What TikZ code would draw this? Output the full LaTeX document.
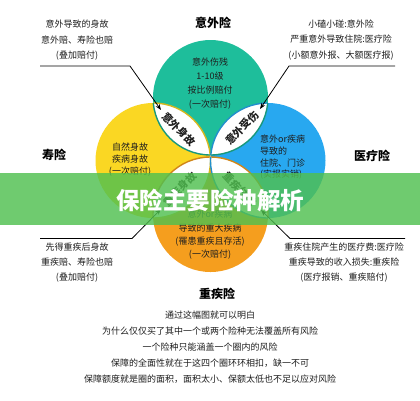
\documentclass[tikz,border=0pt]{standalone}
\usepackage{fontspec}
\setmainfont{Noto Sans CJK SC}
\usetikzlibrary{arrows.meta}
\definecolor{cteal}{RGB}{30,190,155}
\definecolor{cyellow}{RGB}{250,215,35}
\definecolor{cblue}{RGB}{40,168,240}
\definecolor{corange}{RGB}{245,158,30}
\definecolor{cbanner}{RGB}{80,192,80}
\definecolor{ctext}{RGB}{30,30,30}
\begin{document}
\begin{tikzpicture}[x=1pt,y=-1pt,
  disk/.style={circle, minimum size=115pt, inner sep=0pt, draw=none},
  txt/.style={inner sep=0pt, text=ctext, align=center, font=\fontsize{9}{#1}\selectfont},
  txt/.default=15.5,
  ttl/.style={inner sep=0pt, text=black, font=\fontsize{12}{14}\selectfont\bfseries},
  lens/.style={inner sep=0pt, text=ctext, font=\fontsize{10.5}{12}\selectfont\bfseries},
  pointer/.style={draw=black, line width=0.8pt, -{Stealth[length=6pt,width=4.5pt]}},
  rim/.style={line width=1.4pt}
]
\useasboundingbox (0,0) rectangle (420,400);
\fill[white] (0,0) rectangle (420,400);

% four circles
\node[disk, fill=cteal]   (cA) at (210.5,97.5) {};
\node[disk, fill=cyellow] (cB) at (153,160.5) {};
\node[disk, fill=cblue]   (cC) at (268,160.5) {};
\node[disk, fill=corange] (cD) at (210.5,214.5) {};

% white lenses
\begin{scope}\clip (cA.center) circle[radius=57.5pt]; \fill[white] (cB.center) circle[radius=57.5pt]; \end{scope}
\begin{scope}\clip (cA.center) circle[radius=57.5pt]; \fill[white] (cC.center) circle[radius=57.5pt]; \end{scope}
\begin{scope}\clip (cD.center) circle[radius=57.5pt]; \fill[white] (cB.center) circle[radius=57.5pt]; \end{scope}
\begin{scope}\clip (cD.center) circle[radius=57.5pt]; \fill[white] (cC.center) circle[radius=57.5pt]; \end{scope}

% lens rims
\begin{scope}\clip (cA.center) circle[radius=57.5pt]; \draw[rim, cyellow!85!black] (cB.center) circle[radius=57.5pt]; \draw[rim, cblue!85!black] (cC.center) circle[radius=57.5pt]; \end{scope}
\begin{scope}\clip (cB.center) circle[radius=57.5pt]; \draw[rim, cteal!80!black] (cA.center) circle[radius=57.5pt]; \draw[rim, corange!85!black] (cD.center) circle[radius=57.5pt]; \end{scope}
\begin{scope}\clip (cC.center) circle[radius=57.5pt]; \draw[rim, cteal!80!black] (cA.center) circle[radius=57.5pt]; \draw[rim, corange!85!black] (cD.center) circle[radius=57.5pt]; \end{scope}
\begin{scope}\clip (cD.center) circle[radius=57.5pt]; \draw[rim, cyellow!85!black] (cB.center) circle[radius=57.5pt]; \draw[rim, cblue!85!black] (cC.center) circle[radius=57.5pt]; \end{scope}

% lens labels
\node[lens, rotate=-45] (lAB) at (179,129) {意外身故};
\node[lens, rotate=45]  (lAC) at (242,128) {意外受伤};
\node[lens, rotate=47]  (lBD) at (180,189) {重疾身故};
\node[lens, rotate=-47] (lCD) at (240,189) {重疾住院};

% circle texts
\node[txt=14] (tA) at (210,84) {意外伤残\\1-10级\\按比例赔付\\(一次赔付)};
\node[txt=12] (tB) at (130,160) {自然身故\\疾病身故\\(一次赔付)};
\node[txt=11.7, align=left, anchor=west] (tC) at (260,157.5) {意外or疾病\\导致的\\住院、门诊\\(实报实销)};
\node[txt=13.3] (tD) at (210,235) {意外or疾病\\导致的重大疾病\\(罹患重疾且存活)\\(一次赔付)};

% titles
\node[ttl] (hA) at (213,23) {意外险};
\node[ttl] (hB) at (54,155) {寿险};
\node[ttl] (hC) at (372,156) {医疗险};
\node[ttl] (hD) at (217,294) {重疾险};

% annotations
\node[txt] (nTL) at (77,40.5) {意外导致的身故\\意外赔、寿险也赔\\(叠加赔付)};
\node[txt] (nTR) at (341,40) {小磕小碰:意外险\\严重意外导致住院:医疗险\\(小额意外报、大额医疗报)};
\node[txt=15] (nBL) at (77,263) {先得重疾后身故\\重疾赔、寿险也赔\\(叠加赔付)};
\node[txt=15] (nBR) at (344,263) {重疾住院产生的医疗费:医疗险\\重疾导致的收入损失:重疾险\\(医疗报销、重疾赔付)};

\coordinate (pTL0) at (40,66);  \coordinate (pTL1) at (130,66);  \coordinate (pTL2) at (161,110);
\coordinate (pTR0) at (395,66); \coordinate (pTR1) at (289,66);  \coordinate (pTR2) at (260,109);
\coordinate (pBL0) at (40,238.5); \coordinate (pBL1) at (132,238.5); \coordinate (pBL2) at (161,209);
\coordinate (pBR0) at (405,238.5); \coordinate (pBR1) at (290,238.5); \coordinate (pBR2) at (261,210);
\draw[pointer] (pTL0) -- (pTL1) -- (pTL2);
\draw[pointer] (pTR0) -- (pTR1) -- (pTR2);
\draw[pointer] (pBL0) -- (pBL1) -- (pBL2);
\draw[pointer] (pBR0) -- (pBR1) -- (pBR2);

% bottom paragraph
\node[txt=16] (para) at (210,347) {通过这幅图就可以明白\\为什么仅仅买了其中一个或两个险种无法覆盖所有风险\\一个险种只能涵盖一个圈内的风险\\保障的全面性就在于这四个圈环环相扣，缺一不可\\保障额度就是圈的面积，面积太小、保额太低也不足以应对风险};

% banner
\fill[cbanner, opacity=0.82] (0,173) rectangle (420,225);
\node[inner sep=0pt, text=white, font=\fontsize{23.5}{26}\selectfont\bfseries] (banner) at (210,200) {保险主要险种解析};
\end{tikzpicture}
\end{document}
